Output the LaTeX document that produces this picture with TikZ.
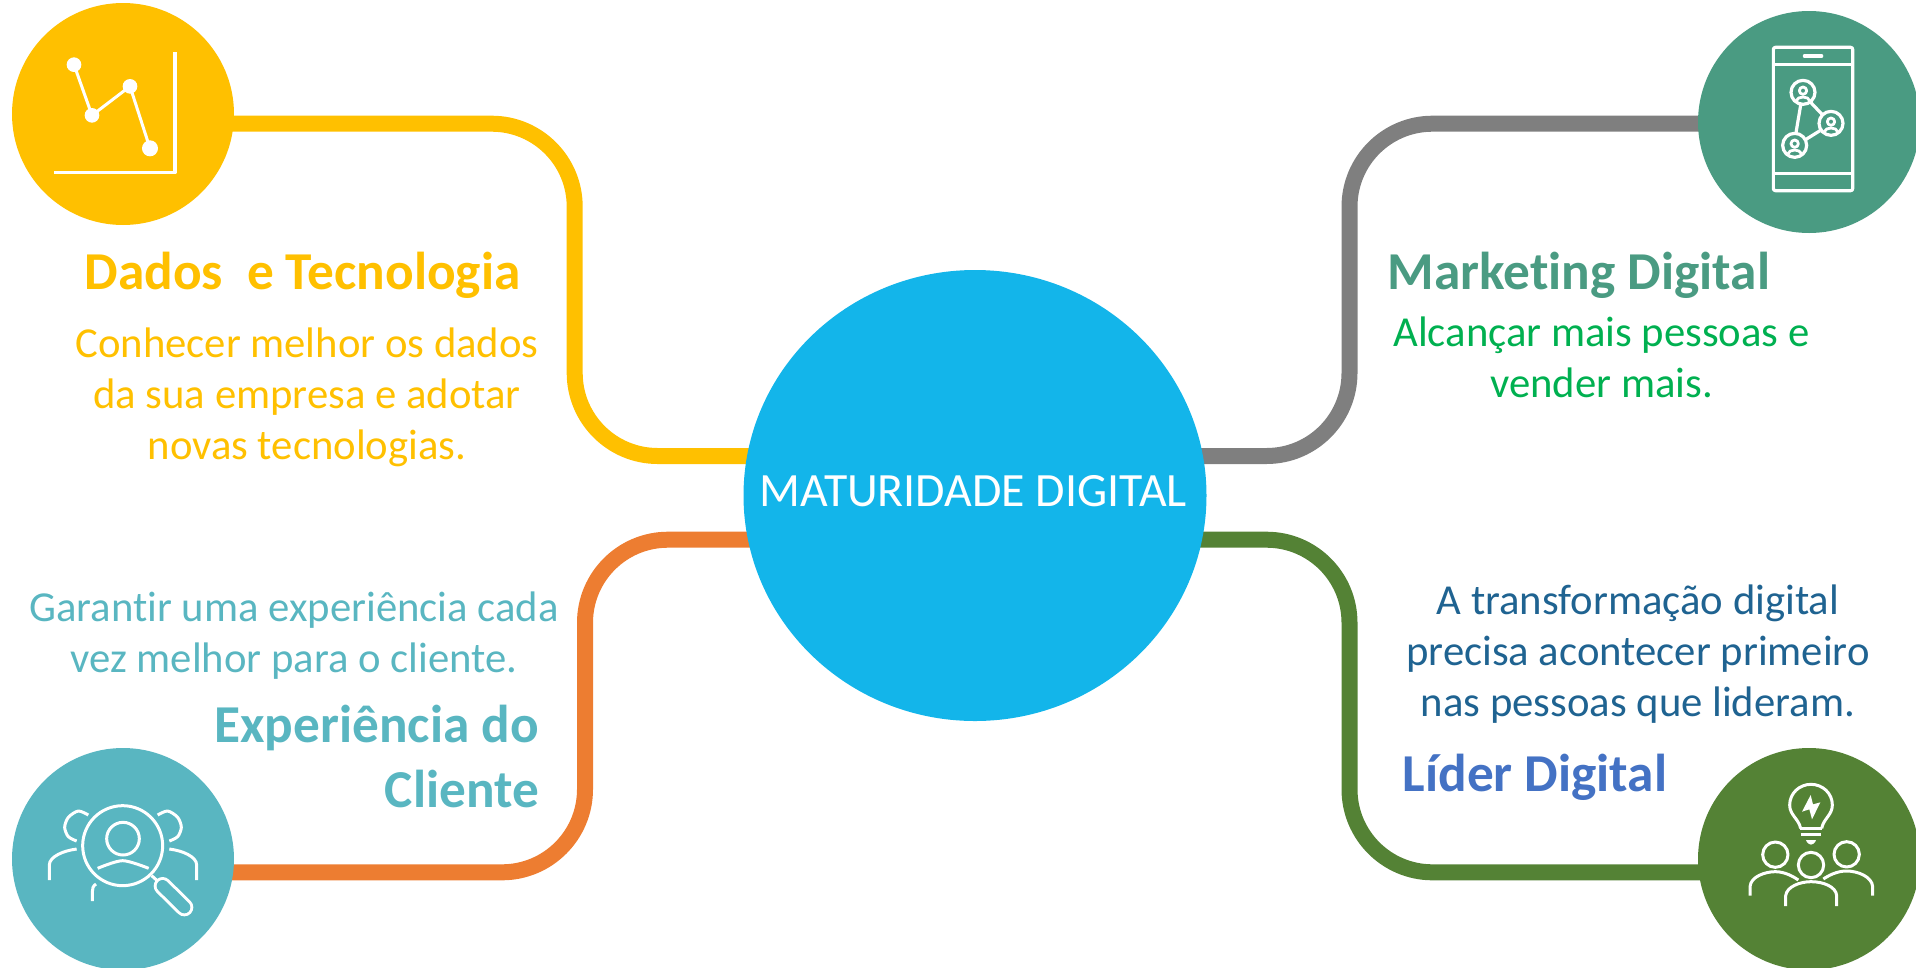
\documentclass[tikz,border=0pt]{standalone}
\usepackage{fontspec}
\setmainfont[Ligatures=NoCommon]{Carlito}
\usetikzlibrary{backgrounds,shapes.geometric}
\definecolor{cyell}{HTML}{FFC000}
\definecolor{cmark}{HTML}{4A9B82}
\definecolor{cteal}{HTML}{59B6C1}
\definecolor{cgreen}{HTML}{548235}
\definecolor{cgray}{HTML}{7F7F7F}
\definecolor{corange}{HTML}{ED7D31}
\definecolor{ccenter}{HTML}{13B5EA}
\definecolor{calc}{HTML}{00B050}
\definecolor{cdark}{HTML}{1F6391}
\definecolor{clider}{HTML}{4472C4}
\tikzset{
  badge/.style={circle,fill=#1,draw=none,inner sep=0pt,minimum size=222pt},
  link/.style={draw=#1,line width=16pt,rounded corners=83pt},
  bodytext/.style={font=\fontsize{42.7}{51}\selectfont,align=center,anchor=center,inner sep=0pt},
  headtext/.style={font=\fontsize{53.3}{65}\selectfont\bfseries,align=center,anchor=base,inner sep=0pt},
  iconline/.style={draw=white,line width=#1,line cap=butt,line join=round},
  iconline/.default=3pt,
  zoomed/.style={x=0.33333pt,y=-0.33333pt},
}
\begin{document}
\begin{tikzpicture}[x=1pt,y=-1pt]
\clip (0,0) rectangle (1916,967);
\node[ellipse,fill=ccenter,draw=none,inner sep=0pt,minimum width=463pt,minimum height=451pt] (mc) at (975,495.5) {};
\node[text=white,font=\fontsize{47.8}{56}\selectfont,inner sep=0pt] (mt) at (973,491) {MATURIDADE DIGITAL};
\node[badge=cyell] (yc) at (123,114) {};
\node[badge=cmark] (gc) at (1809,122) {};
\node[badge=cteal] (tc) at (123,859) {};
\node[badge=cgreen] (lc) at (1809,859) {};
\begin{pgfonlayer}{background}
\path[link=cyell] (yc.center) ++(0,9.7) -- (574.7,123.7) -- (574.7,456) -- (mc.center |- 0,456);
\path[link=cgray] (gc.center) ++(0,1.7) -- (1349.5,123.7) -- (1349.5,456) -- (mc.center |- 0,456);
\path[link=corange] (tc.center) ++(0,13.3) -- (585,872.3) -- (585,539.7) -- (mc.center |- 0,539.7);
\path[link=cgreen] (lc.center) ++(0,13.3) -- (1349.5,872.3) -- (1349.5,539.7) -- (mc.center |- 0,539.7);
\end{pgfonlayer}

% texts
\node[headtext,text=cyell] (t1) at (302.5,289) {Dados\ \ e Tecnologia};
\node[bodytext,text=cyell] (t2) at (307,397.5) {Conhecer melhor os dados\\da sua empresa e adotar\\novas tecnologias.};
\node[headtext,text=cmark] (t3) at (1579,289) {Marketing Digital};
\node[bodytext,text=calc] (t4) at (1601.5,357.5) {Alcançar mais pessoas e\\vender mais.};
\node[bodytext,text=cteal] (t5) at (294,635.5) {Garantir uma experiência cada\\vez melhor para o cliente.};
\node[headtext,text=cteal,align=right,anchor=east] (t6) at (539,756) {Experiência do\\Cliente};
\node[bodytext,text=cdark] (t7) at (1638,654.5) {A transformação digital\\precisa acontecer primeiro\\nas pessoas que lideram.};
\node[headtext,text=clider] (t8) at (1535,791.7) {Líder Digital};

% icon: chart
\begin{scope}[zoomed]
\draw[iconline=3.2pt] (163,518) -- (525,518) -- (525,157);
\draw[iconline=3pt] (222,194) -- (276,346) -- (390,259) -- (450,445);
\fill[white] (222,194) circle [radius=22] (276,346) circle [radius=22] (390,259) circle [radius=22] (450,445) circle [radius=24];
\end{scope}

% icon: phone
\begin{scope}[shift={(1680,0)},zoomed]
\draw[iconline=3.2pt,rounded corners=2pt] (280,142) rectangle (518,572);
\draw[iconline=3.2pt] (280,194) -- (518,194) (280,520) -- (518,520);
\draw[iconline=3.2pt,line cap=round] (373,168) -- (425,168);
\draw[iconline=3.2pt] (362,315) -- (348,398) (390,305) -- (428,345) (378,418) -- (420,392);
\foreach \cx/\cy in {369/277,453/370,344/436}{
  \draw[iconline=3.2pt] (\cx,\cy) circle [radius=36];
  \draw[iconline=2.8pt] (\cx,\cy-5) circle [radius=11];
  \draw[iconline=2.8pt] (\cx-21,\cy+26) .. controls (\cx-16,\cy+10) and (\cx+16,\cy+10) .. (\cx+21,\cy+26);
}
\end{scope}

% icon: magnifier and people
\begin{scope}[shift={(0,730)},zoomed]
\draw[iconline] (368,347) circle [radius=120];
\draw[iconline] (369,326) circle [radius=49];
\draw[iconline] plot[smooth] coordinates {(293,415) (368,392) (446,415)};
\draw[iconline] (455,437) -- (475,455);
\draw[white,line width=18pt,line cap=round] (488,468) -- (553,532);
\draw[cteal,line width=12pt,line cap=round] (488,468) -- (553,532);
\draw[iconline] plot[smooth] coordinates {(265,255) (235,243) (205,262) (194,292) (205,320) (230,333)};
\draw[iconline] plot[smooth] coordinates {(473,255) (503,243) (533,262) (544,292) (533,320) (508,333)};
\draw[iconline] (230,357) .. controls (190,362) and (148,380) .. (148,405) -- (148,450);
\draw[iconline] (508,357) .. controls (548,362) and (590,380) .. (590,405) -- (590,450);
\draw[iconline] (288,462) .. controls (279,468) and (277,475) .. (277,485) -- (277,513);
\end{scope}

% icon: bulb and team
\begin{scope}[shift={(1680,730)},zoomed]
\draw[iconline] (362,295) .. controls (355,265) and (329,255) .. (329,225) .. controls (329,190) and (358,163) .. (393,163) .. controls (428,163) and (457,190) .. (457,225) .. controls (457,255) and (431,265) .. (425,295);
\draw[iconline] (360,295) -- (427,295) (362,312) -- (424,312);
\fill[white] (378,330) -- (408,330) .. controls (406,340) and (396,344) .. (393,344) .. controls (390,344) and (380,340) .. (378,330) -- cycle;
\fill[white] (392,195) -- (366,245) -- (388,238) -- (396,268) -- (421,217) -- (399,223) -- cycle;
\draw[iconline] (286,374) circle [radius=38] (500,373) circle [radius=38] (393,405) circle [radius=38];
\draw[iconline] (210,497) -- (210,470) .. controls (212,440) and (255,425) .. (286,425) .. controls (315,425) and (340,440) .. (355,450);
\draw[iconline] (578,497) -- (578,470) .. controls (576,440) and (533,423) .. (500,423) .. controls (470,423) and (445,437) .. (430,447);
\draw[iconline] (317,528) -- (317,497) .. controls (320,470) and (360,455) .. (393,455) .. controls (430,455) and (468,470) .. (470,497) -- (470,528);
\end{scope}
\end{tikzpicture}
\end{document}
